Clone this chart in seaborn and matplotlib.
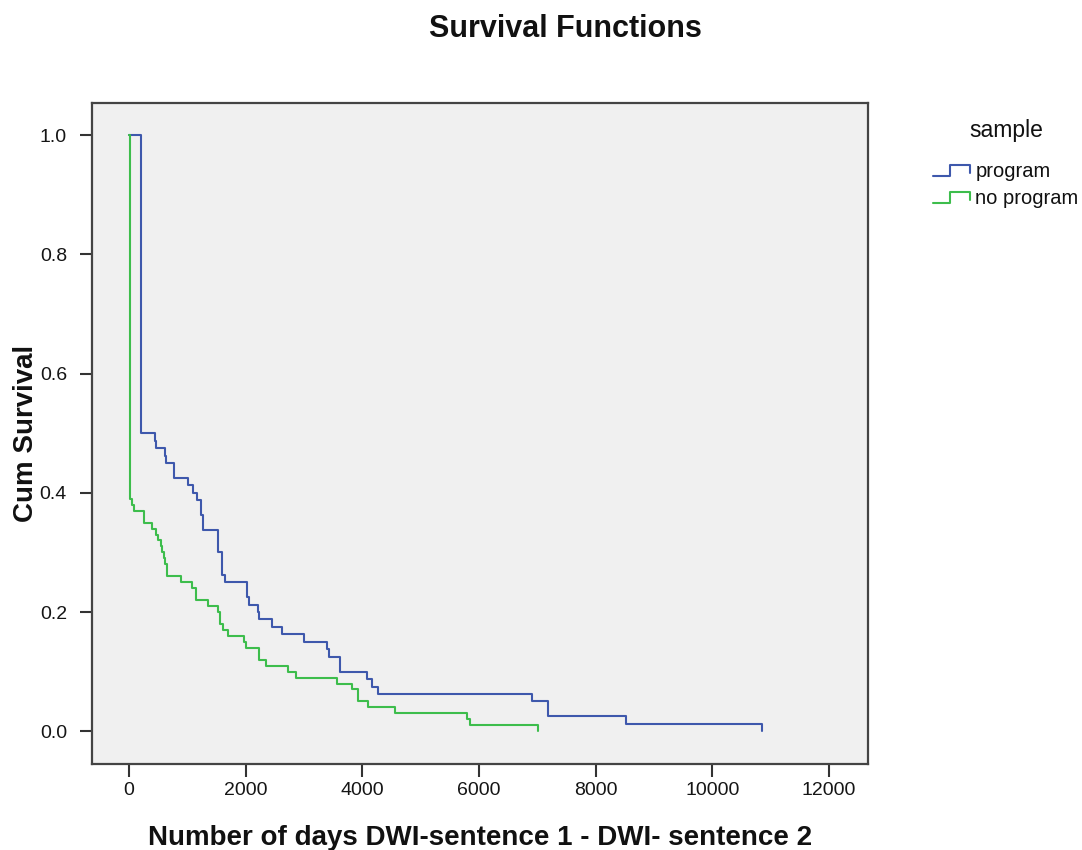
import pandas as pd
import matplotlib.pyplot as plt
import seaborn as sns
from matplotlib.lines import Line2D
from matplotlib.legend_handler import HandlerLine2D

# event times (days) and cumulative survival after each event
program_days = [0, 206, 446, 460, 617, 634, 771, 1017, 1092, 1160, 1234, 1274, 1531, 1589, 1650,
                2017, 2063, 2206, 2234, 2446, 2617, 3000, 3393, 3434, 3610, 4075, 4172, 4264,
                6902, 7178, 8528, 10847]
program_surv = [1.0, 0.5, 0.4875, 0.475, 0.4625, 0.45, 0.425, 0.4125, 0.4, 0.3875, 0.3625, 0.3375,
                0.3, 0.2625, 0.25, 0.225, 0.2125, 0.2, 0.1875, 0.175, 0.1625, 0.15, 0.1375, 0.125,
                0.1, 0.0875, 0.075, 0.0625, 0.05, 0.025, 0.0125, 0.0]

noprog_days = [0, 17, 46, 91, 263, 400, 463, 503, 543, 571, 600, 623, 657, 886, 1074, 1143, 1360,
               1531, 1560, 1606, 1703, 1971, 2000, 2234, 2343, 2731, 2863, 3571, 3822, 3926, 4092,
               4552, 5798, 5847, 7012]
noprog_surv = [1.0, 0.39, 0.38, 0.37, 0.35, 0.34, 0.33, 0.32, 0.31, 0.30, 0.29, 0.28, 0.26, 0.25,
               0.24, 0.22, 0.21, 0.20, 0.18, 0.17, 0.16, 0.15, 0.14, 0.12, 0.11, 0.10, 0.09, 0.08,
               0.07, 0.05, 0.04, 0.03, 0.02, 0.01, 0.0]

groups = ['program', 'no program']
colors = {'program': '#3E58AC', 'no program': '#3DBD4C'}

df = pd.concat([
    pd.DataFrame({'days': program_days, 'surv': program_surv, 'sample': 'program'}),
    pd.DataFrame({'days': noprog_days, 'surv': noprog_surv, 'sample': 'no program'}),
], ignore_index=True)

sns.set_style('ticks')
plt.rcParams['font.family'] = ['Liberation Sans', 'DejaVu Sans']
plt.rcParams['text.color'] = '#111111'
plt.rcParams['axes.labelcolor'] = '#111111'

fig = plt.figure(figsize=(10.82, 8.5), dpi=100)
ax = fig.add_axes([92/1082, 86/850, 776/1082, 661/850])
ax.set_facecolor('#F0F0F0')

sns.lineplot(data=df, x='days', y='surv', hue='sample', hue_order=groups, palette=colors,
             estimator=None, sort=False, drawstyle='steps-post', linewidth=1.5,
             legend=False, ax=ax)

ax.set_xlim(-634, 12669)
ax.set_ylim(-0.055, 1.054)
ax.set_xticks(range(0, 12001, 2000))
ax.set_yticks([0.0, 0.2, 0.4, 0.6, 0.8, 1.0])
ax.tick_params(axis='both', labelsize=14, length=9, width=1.5, color='#333333',
               labelcolor='#151515', pad=4)
ax.tick_params(axis='y', pad=9)
for sp in ax.spines.values():
    sp.set_visible(True)
    sp.set_color('#444444')
    sp.set_linewidth(1.6)

ax.set_xlabel('Number of days DWI-sentence 1 - DWI- sentence 2', fontsize=20,
              fontweight='bold', labelpad=19)
ax.set_ylabel('Cum Survival', fontsize=20, fontweight='bold', labelpad=0.5)

fig.text(0.5227, 1 - 29/850, 'Survival Functions', ha='center', va='center',
         fontsize=22, fontweight='bold')


# step shaped legend glyph, like the spss one
class StepHandler(HandlerLine2D):
    def create_artists(self, legend, orig_handle, xdescent, ydescent, width, height, fontsize, trans):
        x0, y0 = -xdescent, -ydescent
        xs = [x0, x0 + 0.45*width, x0 + 0.45*width, x0 + width, x0 + width]
        ys = [y0 + 0.1*height, y0 + 0.1*height, y0 + 0.85*height, y0 + 0.85*height, y0 + 0.3*height]
        ln = Line2D(xs, ys, color=orig_handle.get_color(), lw=1.5)
        ln.set_transform(trans)
        return [ln]


handles = [Line2D([], [], color=colors[g]) for g in groups]
fig.legend(handles, groups, loc='upper left', bbox_to_anchor=(0.855, 1 - 154/850),
           frameon=False, fontsize=14.5, handlelength=1.85,
           handletextpad=0.25, labelspacing=0.4, borderaxespad=0,
           handler_map={Line2D: StepHandler()})
fig.text(1006/1082, 1 - 130/850, 'sample', ha='center', va='center', fontsize=16.5)

plt.savefig('out.png', dpi=100)
